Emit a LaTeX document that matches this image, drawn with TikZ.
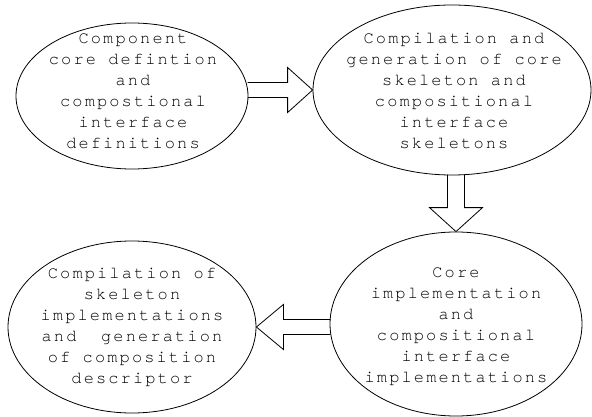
\documentclass[tikz,border=0pt]{standalone}
\usepackage{fontspec}
\usetikzlibrary{shapes.geometric}
\newfontfamily\curmono[LetterSpace=12.5,Ligatures={NoCommon}]{texgyrecursor-regular.otf}
\begin{document}
\begin{tikzpicture}[x=1pt,y=-1pt,
  blob/.style={draw, line width=0.8pt, ellipse, inner sep=0pt},
  txt/.style={align=center, inner sep=0pt, font=\fontsize{17}{21}\curmono},
  blockarrow/.style={draw, line width=0.8pt, line join=miter}]
\useasboundingbox (0,0) rectangle (592,417);
\node[blob, minimum width=232pt, minimum height=146pt] (e1) at (132,96) {};
\node[blob, minimum width=278pt, minimum height=170pt] (e2) at (452,90) {};
\node[blob, minimum width=252pt, minimum height=184pt] (e3) at (456,324) {};
\node[blob, minimum width=248pt, minimum height=172pt] (e4) at (132,327) {};
\node[txt] (t1) at (133,91) {Component\\core defintion\\and\\compostional\\interface\\definitions};
\node[txt] (t2) at (454,91) {Compilation and\\generation of core\\skeleton and\\compositional\\interface\\skeletons};
\node[txt] (t3) at (456,327) {Core\\implementation\\and\\compositional\\interface\\implementations};
\node[txt] (t4) at (132,327) {Compilation of\\skeleton\\implementations\\and~~generation\\of composition\\descriptor};
% arrow e1 -> e2
\coordinate (a1) at (e2.west);
\draw[blockarrow] (a1) ++(-65,-7.5) -- ++(40,0) -- ++(0,-15) -- (a1) -- ++(-25,22.5) -- ++(0,-15) -- ++(-40,0);
% arrow e2 -> e3
\coordinate (a2) at (e3.north);
\draw[blockarrow] (a2) ++(-8.5,-57) -- ++(0,33) -- ++(-18,0) -- (a2) -- ++(26.5,-24) -- ++(-18,0) -- ++(0,-33);
% arrow e3 -> e4
\coordinate (a3) at (e4.east);
\draw[blockarrow] (a3) ++(74,-7.5) -- ++(-47,0) -- ++(0,-15) -- (a3) -- ++(27,22.5) -- ++(0,-15) -- ++(47,0);
\end{tikzpicture}
\end{document}
